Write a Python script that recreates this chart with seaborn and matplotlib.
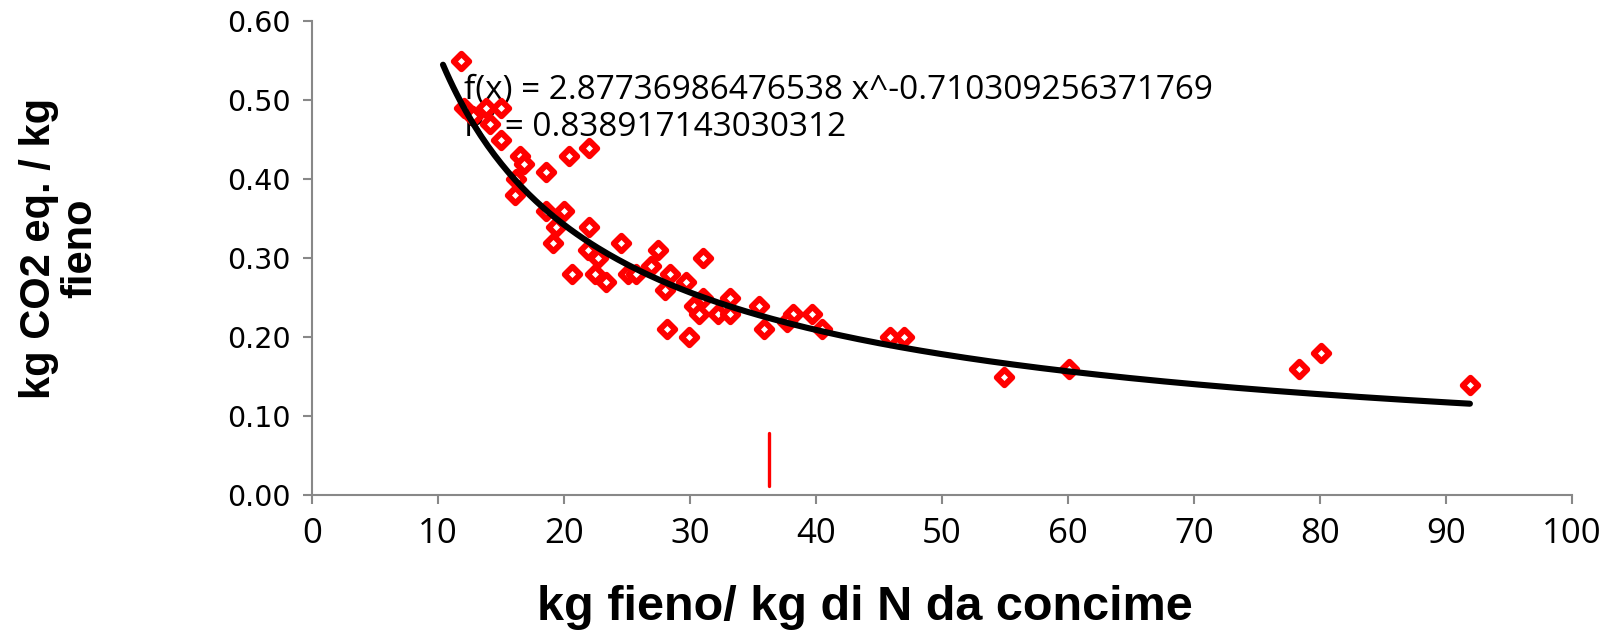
import numpy as np
import pandas as pd
import matplotlib
matplotlib.use("Agg")
import matplotlib.pyplot as plt
import seaborn as sns

# ---- data ----
x_fieno = [11.8, 12.1, 12.8, 13.8, 15.0, 14.1, 15.0, 16.5, 16.8, 16.2, 16.1,
           18.6, 20.4, 22.0, 18.6, 20.0, 19.4, 19.1, 22.0, 21.9, 22.7, 20.6,
           22.5, 23.3, 24.5, 25.1, 25.7, 27.5, 26.9, 28.4, 28.0, 29.7, 31.0,
           28.2, 29.9, 30.3, 30.7, 31.0, 32.2, 33.2, 33.2, 35.5, 35.9, 38.2,
           37.7, 39.7, 40.5, 45.9, 47.0, 54.9, 60.1, 78.3, 80.1, 91.9]
y_co2 = [0.55, 0.49, 0.48, 0.49, 0.49, 0.47, 0.45, 0.43, 0.42, 0.40, 0.38,
         0.41, 0.43, 0.44, 0.36, 0.36, 0.34, 0.32, 0.34, 0.31, 0.30, 0.28,
         0.28, 0.27, 0.32, 0.28, 0.28, 0.31, 0.29, 0.28, 0.26, 0.27, 0.30,
         0.21, 0.20, 0.24, 0.23, 0.25, 0.23, 0.25, 0.23, 0.24, 0.21, 0.23,
         0.22, 0.23, 0.21, 0.20, 0.20, 0.15, 0.16, 0.16, 0.18, 0.14]

fit_a = 2.87736986476538
fit_b = -0.710309256371769
fit_r2 = 0.838917143030312
fit_range = [10.4, 91.9]

marker_x = [36.3, 36.3]
marker_y = [0.012, 0.079]

x_ticks = [0, 10, 20, 30, 40, 50, 60, 70, 80, 90, 100]
y_ticks = [0.0, 0.1, 0.2, 0.3, 0.4, 0.5, 0.6]

# ---- plotting ----
sns.set_theme(style="white")
plt.rcParams['font.family'] = ['DejaVu Sans']
plt.rcParams['text.color'] = 'black'
plt.rcParams['axes.labelcolor'] = 'black'

fig = plt.figure(figsize=(16.08, 6.30), dpi=100)
ax = fig.add_axes([0.1940, 0.2138, 0.7836, 0.7521])

df = pd.DataFrame({"x": x_fieno, "y": y_co2})
xf = np.linspace(fit_range[0], fit_range[1], 300)
df_fit = pd.DataFrame({"x": xf, "y": fit_a * xf ** fit_b})

sns.lineplot(data=df_fit, x="x", y="y", ax=ax, color="black", linewidth=4.4,
             zorder=3, sort=True)
sns.scatterplot(data=df, x="x", y="y", ax=ax, marker="D", s=62,
                facecolor="white", edgecolor="#ff0000", linewidth=4.3,
                zorder=2)
sns.lineplot(x=marker_x, y=marker_y, ax=ax, color="#ff0000", linewidth=2.4,
             estimator=None, sort=False, zorder=2)

ax.set_xlim(0, 100)
ax.set_ylim(0, 0.6)
ax.set_xticks(x_ticks)
ax.set_yticks(y_ticks)
ax.set_yticklabels([f"{v:.2f}" for v in y_ticks], fontsize=20.5,
                   family="DejaVu Sans")
ax.set_xticklabels([str(v) for v in x_ticks], fontsize=25, family="Open Sans")

for side in ["top", "right"]:
    ax.spines[side].set_visible(False)
for side in ["left", "bottom"]:
    ax.spines[side].set_color("#888888")
    ax.spines[side].set_linewidth(1.5)
ax.tick_params(axis="both", which="major", direction="out", length=6.5,
               width=1.5, color="#888888", labelcolor="black",
               left=True, bottom=True)
ax.tick_params(axis="y", pad=9)
ax.tick_params(axis="x", pad=9)

ax.set_xlabel("kg fieno/ kg di N da concime", fontsize=35, fontweight="bold",
              family="Liberation Sans")
ax.xaxis.set_label_coords(0.439, -0.19)
ax.set_ylabel("kg CO2 eq. / kg\nfieno", fontsize=30, fontweight="bold",
              family="Liberation Sans", linespacing=1.05)
ax.yaxis.set_label_coords(-0.168, 0.522)

ax.text(12.1, 0.513, f"f(x) = {fit_a} x^{fit_b}", fontsize=24,
        family="Open Sans", va="center", ha="left", zorder=1)
ax.text(12.1, 0.466, f"R\u00b2 = {fit_r2}", fontsize=24,
        family="Open Sans", va="center", ha="left", zorder=1)

fig.savefig("out.png", dpi=100, facecolor="white")
